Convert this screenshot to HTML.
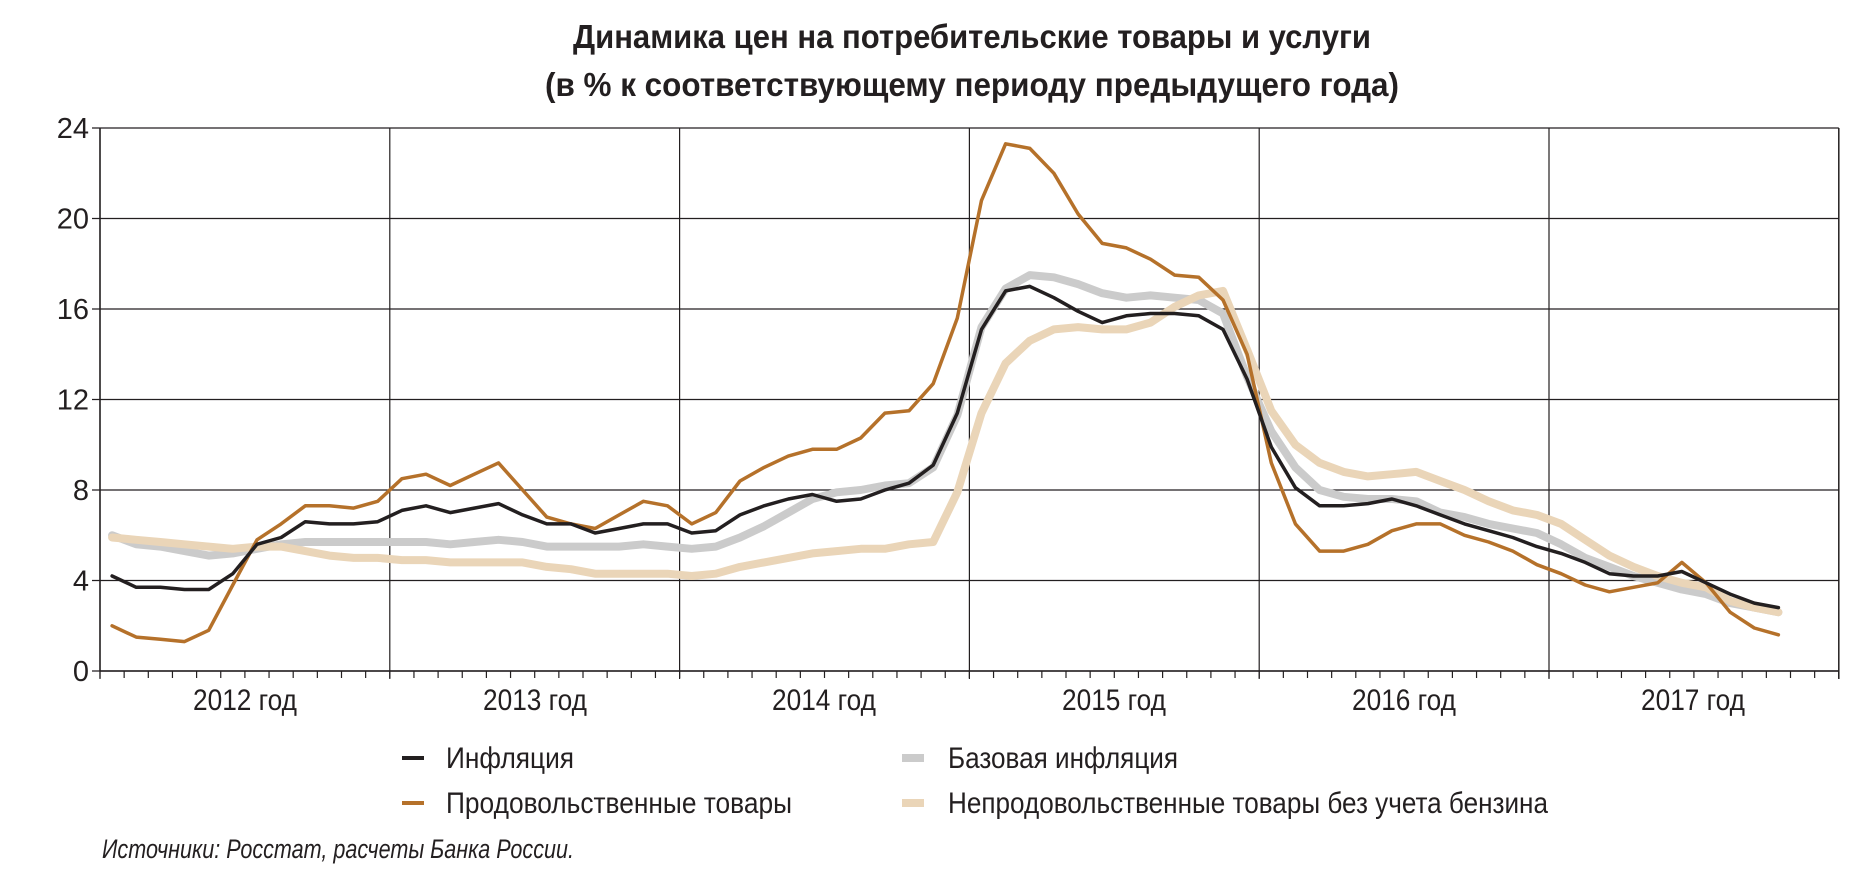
<!DOCTYPE html>
<html><head><meta charset="utf-8"><style>
html,body{margin:0;padding:0;background:#fff;}
svg{display:block;}
text{font-family:"Liberation Sans Narrow","Liberation Sans",sans-serif;fill:#231f20;}
</style></head><body>
<svg id="s" width="1870" height="885" viewBox="0 0 1870 885" xmlns="http://www.w3.org/2000/svg">
<text x="972" y="48" text-anchor="middle" font-size="33" font-weight="bold" textLength="798" lengthAdjust="spacingAndGlyphs">Динамика цен на потребительские товары и услуги</text>
<text x="972" y="96" text-anchor="middle" font-size="33" font-weight="bold" textLength="854" lengthAdjust="spacingAndGlyphs">(в % к соответствующему периоду предыдущего года)</text>
<g id="grid"></g>
<g id="series" fill="none" stroke-linejoin="round" stroke-linecap="round"></g>
<g id="yl" font-size="29"></g>
<g font-size="30">
<text x="245" y="710" text-anchor="middle" textLength="104" lengthAdjust="spacingAndGlyphs">2012 год</text>
<text x="535" y="710" text-anchor="middle" textLength="104" lengthAdjust="spacingAndGlyphs">2013 год</text>
<text x="824" y="710" text-anchor="middle" textLength="104" lengthAdjust="spacingAndGlyphs">2014 год</text>
<text x="1114" y="710" text-anchor="middle" textLength="104" lengthAdjust="spacingAndGlyphs">2015 год</text>
<text x="1404" y="710" text-anchor="middle" textLength="104" lengthAdjust="spacingAndGlyphs">2016 год</text>
<text x="1693" y="710" text-anchor="middle" textLength="104" lengthAdjust="spacingAndGlyphs">2017 год</text>
</g>
<g font-size="30">
<line x1="402" y1="758" x2="424" y2="758" stroke="#231f20" stroke-width="4"/>
<text x="446" y="768" textLength="128" lengthAdjust="spacingAndGlyphs">Инфляция</text>
<line x1="402" y1="803" x2="424" y2="803" stroke="#b5712a" stroke-width="4"/>
<text x="446" y="813" textLength="346" lengthAdjust="spacingAndGlyphs">Продовольственные товары</text>
<line x1="902" y1="758" x2="924" y2="758" stroke="#cbcbcb" stroke-width="8"/>
<text x="948" y="768" textLength="230" lengthAdjust="spacingAndGlyphs">Базовая инфляция</text>
<line x1="902" y1="803" x2="924" y2="803" stroke="#ead5b8" stroke-width="8"/>
<text x="948" y="813" textLength="600" lengthAdjust="spacingAndGlyphs">Непродовольственные товары без учета бензина</text>
</g>
<text x="102" y="858" font-size="27" font-style="italic" textLength="472" lengthAdjust="spacingAndGlyphs">Источники: Росстат, расчеты Банка России.</text>
</svg>
<script>
var L=100,M=24.15,R=L+72*M,T=128,B=671;
function Y(v){return B-(B-T)*v/24;}
function X(i){return L+M*(i+0.5);}
var h='',yl='';
for(var v=0;v<=24;v+=4){h+='<line x1="'+(L-8)+'" y1="'+Y(v)+'" x2="'+R+'" y2="'+Y(v)+'" stroke="#231f20" stroke-width="1.2"/>';
yl+='<text x="89" y="'+(Y(v)+10)+'" text-anchor="end">'+v+'</text>';}
for(var k=0;k<=5;k++){var x=L+k*12*M;h+='<line x1="'+x+'" y1="'+T+'" x2="'+x+'" y2="'+(B+8)+'" stroke="#231f20" stroke-width="1.2"/>';}
h+='<line x1="'+R+'" y1="'+T+'" x2="'+R+'" y2="'+(B+8)+'" stroke="#231f20" stroke-width="1.5"/>';
for(var m=0;m<=72;m++){var x=L+m*M;h+='<line x1="'+x+'" y1="'+B+'" x2="'+x+'" y2="'+(B+7)+'" stroke="#231f20" stroke-width="1.2"/>';}
h+='<line x1="'+L+'" y1="'+T+'" x2="'+L+'" y2="'+B+'" stroke="#231f20" stroke-width="1.5"/>';
h+='<line x1="'+L+'" y1="'+B+'" x2="'+R+'" y2="'+B+'" stroke="#231f20" stroke-width="1.5"/>';
document.getElementById('grid').innerHTML=h;
document.getElementById('yl').innerHTML=yl;
var inf=[4.2,3.7,3.7,3.6,3.6,4.3,5.6,5.9,6.6,6.5,6.5,6.6,7.1,7.3,7.0,7.2,7.4,6.9,6.5,6.5,6.1,6.3,6.5,6.5,6.1,6.2,6.9,7.3,7.6,7.8,7.5,7.6,8.0,8.3,9.1,11.4,15.1,16.8,17.0,16.5,15.9,15.4,15.7,15.8,15.8,15.7,15.1,12.9,9.9,8.1,7.3,7.3,7.4,7.6,7.3,6.9,6.5,6.2,5.9,5.5,5.2,4.8,4.3,4.2,4.2,4.4,3.9,3.4,3.0,2.8];
var food=[2.0,1.5,1.4,1.3,1.8,3.8,5.8,6.5,7.3,7.3,7.2,7.5,8.5,8.7,8.2,8.7,9.2,8.0,6.8,6.5,6.3,6.9,7.5,7.3,6.5,7.0,8.4,9.0,9.5,9.8,9.8,10.3,11.4,11.5,12.7,15.6,20.8,23.3,23.1,22.0,20.2,18.9,18.7,18.2,17.5,17.4,16.4,14.0,9.2,6.5,5.3,5.3,5.6,6.2,6.5,6.5,6.0,5.7,5.3,4.7,4.3,3.8,3.5,3.7,3.9,4.8,3.9,2.6,1.9,1.6];
var core=[6.0,5.6,5.5,5.3,5.1,5.2,5.4,5.6,5.7,5.7,5.7,5.7,5.7,5.7,5.6,5.7,5.8,5.7,5.5,5.5,5.5,5.5,5.6,5.5,5.4,5.5,5.9,6.4,7.0,7.6,7.9,8.0,8.2,8.3,9.0,11.3,15.2,16.9,17.5,17.4,17.1,16.7,16.5,16.6,16.5,16.4,15.8,13.0,10.6,9.0,8.0,7.7,7.6,7.6,7.5,7.0,6.8,6.5,6.3,6.1,5.6,5.0,4.6,4.2,3.9,3.6,3.4,3.0,2.8,2.6];
var nf=[5.9,5.8,5.7,5.6,5.5,5.4,5.5,5.5,5.3,5.1,5.0,5.0,4.9,4.9,4.8,4.8,4.8,4.8,4.6,4.5,4.3,4.3,4.3,4.3,4.2,4.3,4.6,4.8,5.0,5.2,5.3,5.4,5.4,5.6,5.7,7.9,11.4,13.6,14.6,15.1,15.2,15.1,15.1,15.4,16.1,16.6,16.8,14.2,11.5,10.0,9.2,8.8,8.6,8.7,8.8,8.4,8.0,7.5,7.1,6.9,6.5,5.8,5.1,4.6,4.2,3.9,3.7,3.1,2.8,2.6];
function P(d,c,w){var p=d.map(function(v,i){return X(i).toFixed(1)+','+Y(v).toFixed(1)}).join(' ');return '<polyline points="'+p+'" stroke="'+c+'" stroke-width="'+w+'"/>';}
document.getElementById('series').innerHTML=P(core,'#cbcbcb',8)+P(nf,'#ead5b8',8)+P(food,'#b5712a',3.5)+P(inf,'#231f20',3.5);
</script>
</body></html>
